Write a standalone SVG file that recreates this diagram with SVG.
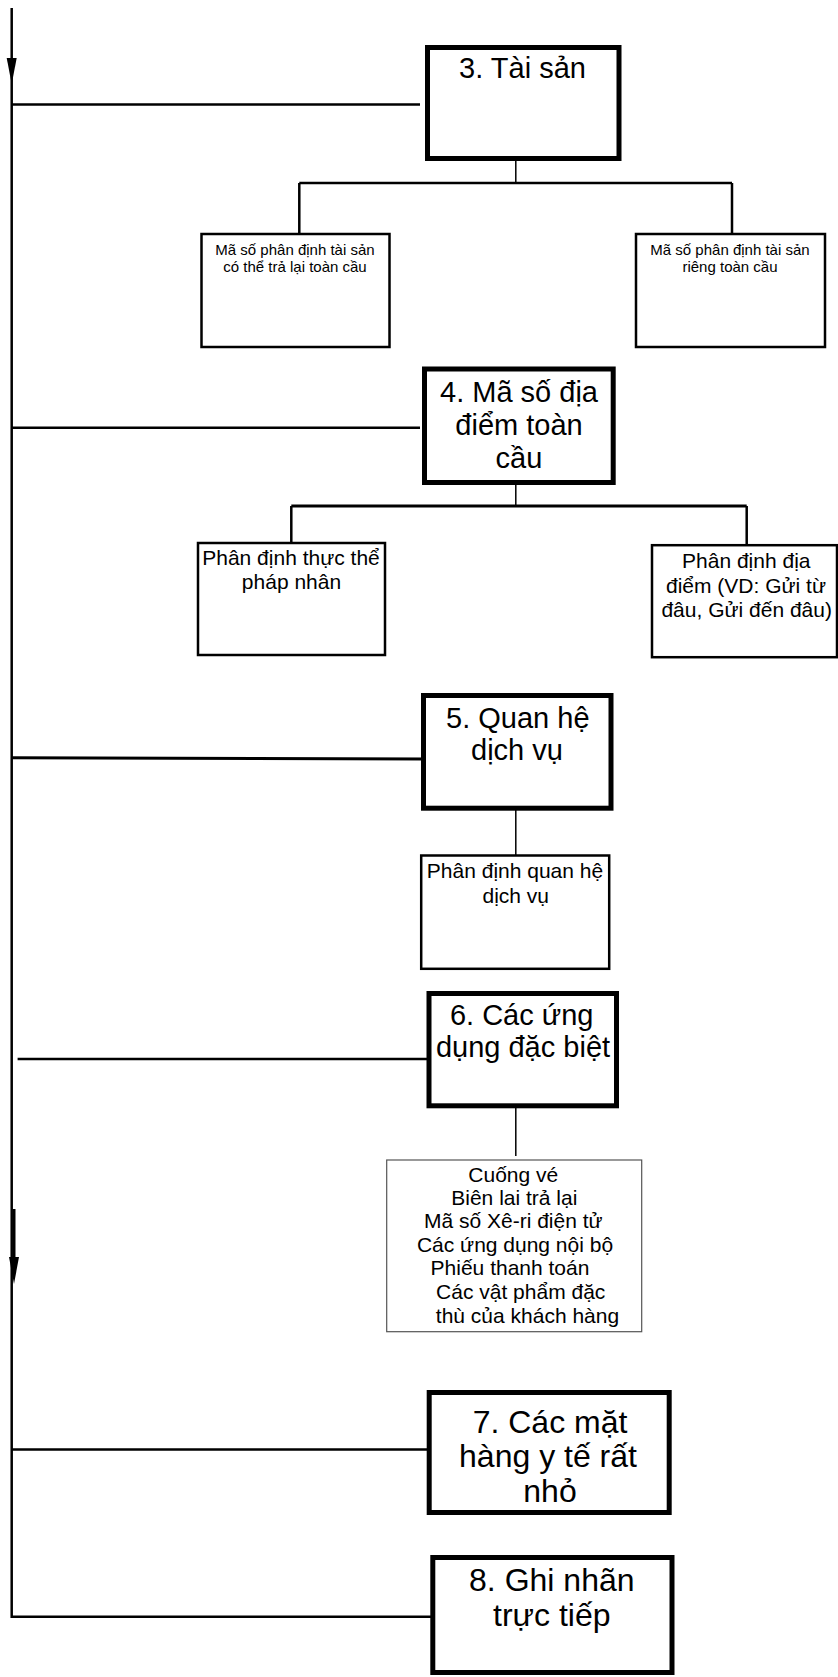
<svg xmlns="http://www.w3.org/2000/svg" width="838" height="1677" viewBox="0 0 838 1677">
  <style>
    text { font-family: "Liberation Sans", Arial, sans-serif; fill: #000; text-anchor: middle; }
    .main rect { fill: #fff; stroke: #000; stroke-width: 5; }
    .sub rect { fill: #fff; stroke: #000; stroke-width: 2.5; }
    .list rect { fill: #fff; stroke: #555; stroke-width: 1.2; }
    .t29 { font-size: 29px; }
    .t32 { font-size: 32px; }
    .t21 { font-size: 21px; }
    .t15 { font-size: 15px; }
    .wire { fill: none; stroke: #000; stroke-width: 2.5; }
    .thin { fill: none; stroke: #000; stroke-width: 1.5; }
    .head { fill: #000; stroke: none; }
  </style>

  <!-- connectors -->
  <g id="connectors">
    <!-- main trunk -->
    <path class="wire" d="M11.7 8 V1618"/>
    <polygon class="head" points="6.7,58 16.7,58 11.7,84"/>
    <path class="wire" d="M14 1209 V1262" style="stroke-width:3"/>
    <polygon class="head" points="9,1257 19,1257 14,1284"/>
    <!-- branches to main items -->
    <path class="wire" d="M11.7 104.5 H420"/>
    <path class="wire" d="M11.7 427.7 H420"/>
    <path class="wire" d="M11.7 757.7 L427 759" style="stroke-width:3"/>
    <path class="wire" d="M17.6 1059 H427"/>
    <path class="wire" d="M11.7 1449.5 H428"/>
    <path class="wire" d="M11.7 1616.7 H431"/>
    <!-- item 3 children -->
    <path class="thin" d="M515.8 160 V183"/>
    <path class="wire" d="M299.3 183 H732 M299.3 183 V234 M732 183 V234"/>
    <!-- item 4 children -->
    <path class="thin" d="M515.8 485 V506"/>
    <path class="wire" d="M291.3 506 H746.7" style="stroke-width:3"/>
    <path class="wire" d="M291.3 506 V543 M746.7 506 V545"/>
    <!-- item 5 child -->
    <path class="thin" d="M515.8 810 V855"/>
    <!-- item 6 child -->
    <path class="thin" d="M515.8 1108 V1156"/>
  </g>

  <!-- 3. Tài sản -->
  <g id="n3" class="main">
    <rect x="427.5" y="47.5" width="191.5" height="111"/>
    <text class="t29" x="522.5" y="78.3">3. Tài sản</text>
  </g>
  <g id="n3a" class="sub">
    <rect x="201.5" y="234" width="188" height="113"/>
    <text class="t15" x="295" y="255">Mã số phân định tài sản</text>
    <text class="t15" x="295" y="271.5">có thể trả lại toàn cầu</text>
  </g>
  <g id="n3b" class="sub">
    <rect x="636" y="234" width="189" height="113"/>
    <text class="t15" x="730" y="255">Mã số phân định tài sản</text>
    <text class="t15" x="730" y="271.5">riêng toàn cầu</text>
  </g>

  <!-- 4. Mã số địa điểm toàn cầu -->
  <g id="n4" class="main">
    <rect x="424.5" y="369" width="188.7" height="113.5"/>
    <text class="t29" x="519" y="401.7">4. Mã số địa</text>
    <text class="t29" x="519" y="435">điểm toàn</text>
    <text class="t29" x="519" y="468.3">cầu</text>
  </g>
  <g id="n4a" class="sub">
    <rect x="198" y="543" width="187" height="112"/>
    <text class="t21" x="291" y="565">Phân định thực thể</text>
    <text class="t21" x="291.5" y="588.5">pháp nhân</text>
  </g>
  <g id="n4b" class="sub">
    <rect x="652" y="545.2" width="185" height="112"/>
    <text class="t21" x="746.3" y="568.3">Phân định địa</text>
    <text class="t21" x="746" y="593">điểm (VD: Gửi từ</text>
    <text class="t21" x="746.7" y="617.3">đâu, Gửi đến đâu)</text>
  </g>

  <!-- 5. Quan hệ dịch vụ -->
  <g id="n5" class="main">
    <rect x="423.5" y="695.5" width="187.5" height="112.7"/>
    <text class="t29" x="517.8" y="728.3">5. Quan hệ</text>
    <text class="t29" x="517" y="760">dịch vụ</text>
  </g>
  <g id="n5a" class="sub">
    <rect x="421.2" y="855.5" width="188" height="113.3"/>
    <text class="t21" x="515" y="878.3">Phân định quan hệ</text>
    <text class="t21" x="515.8" y="903">dịch vụ</text>
  </g>

  <!-- 6. Các ứng dụng đặc biệt -->
  <g id="n6" class="main">
    <rect x="429" y="993.5" width="187.5" height="112.3"/>
    <text class="t29" x="521.7" y="1025">6. Các ứng</text>
    <text class="t29" x="523" y="1057.3">dụng đặc biệt</text>
  </g>
  <g id="n6a" class="list">
    <rect x="386.7" y="1160" width="255" height="171.7"/>
    <text class="t21" x="513.3" y="1181.7">Cuống vé</text>
    <text class="t21" x="514.3" y="1205">Biên lai trả lại</text>
    <text class="t21" x="513.3" y="1228.3">Mã số Xê-ri điện tử</text>
    <text class="t21" x="515" y="1251.7">Các ứng dụng nội bộ</text>
    <text class="t21" x="510" y="1275">Phiếu thanh toán</text>
    <text class="t21" x="520.7" y="1298.5">Các vật phẩm đặc</text>
    <text class="t21" x="527.5" y="1322.7">thù của khách hàng</text>
  </g>

  <!-- 7. Các mặt hàng y tế rất nhỏ -->
  <g id="n7" class="main">
    <rect x="429.2" y="1392.5" width="240" height="120"/>
    <text class="t32" x="550" y="1432.5">7. Các mặt</text>
    <text class="t32" x="548" y="1466.5">hàng y tế rất</text>
    <text class="t32" x="550" y="1501.5">nhỏ</text>
  </g>

  <!-- 8. Ghi nhãn trực tiếp -->
  <g id="n8" class="main">
    <rect x="432.8" y="1557.5" width="239.2" height="115"/>
    <text class="t32" x="551.8" y="1591">8. Ghi nhãn</text>
    <text class="t32" x="551.8" y="1626">trực tiếp</text>
  </g>
</svg>
